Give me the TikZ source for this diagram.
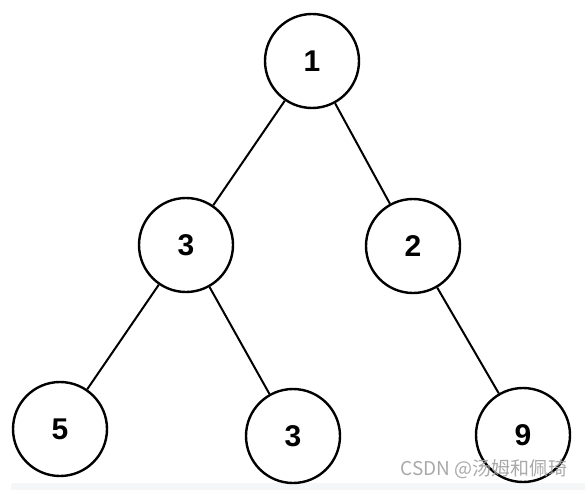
\documentclass[tikz,border=0pt]{standalone}
\usepackage{fontspec}
\setmainfont{Liberation Sans}
\newfontfamily\cjk{Noto Sans CJK SC}
\usepackage{xcolor}
\usetikzlibrary{positioning}
\definecolor{mark-gray}{RGB}{160,160,160}
\definecolor{strip-gray}{RGB}{245,246,248}

\begin{document}
\begin{tikzpicture}[x=1pt, y=-1pt,
  treenode/.style={circle, draw=black, line width=2.4pt, minimum size=94pt, inner sep=0pt, fill=white, font=\fontsize{30}{30}\selectfont\bfseries},
  treeedge/.style={line width=2pt, draw=black}]
  \useasboundingbox (0,0) rectangle (585,489);

  % bottom strip
  \fill[strip-gray, rounded corners=2pt] (11,483) rectangle (590,495);

  % Root
  \node[treenode] (root) at (312,61) {1};

  % Level 2
  \node[treenode] (left) at (186,245) {3};
  \node[treenode] (right) at (413,246) {2};

  % Level 3
  \node[treenode] (leftleft) at (60,429) {5};
  \node[treenode] (leftright) at (293,436) {3};
  \node[treenode] (rightright) at (523,435) {9};

  % Edges
  \draw[treeedge] (root) -- (left);
  \draw[treeedge] (root) -- (right);
  \draw[treeedge] (left) -- (leftleft);
  \draw[treeedge] (left) -- (leftright);
  \draw[treeedge] (right) -- (rightright);

  % Watermark
  \node[font=\cjk\fontsize{19}{19}\selectfont, color=mark-gray, opacity=0.9] (mark) at (484,469) {CSDN @汤姆和佩琦};
\end{tikzpicture}
\end{document}
